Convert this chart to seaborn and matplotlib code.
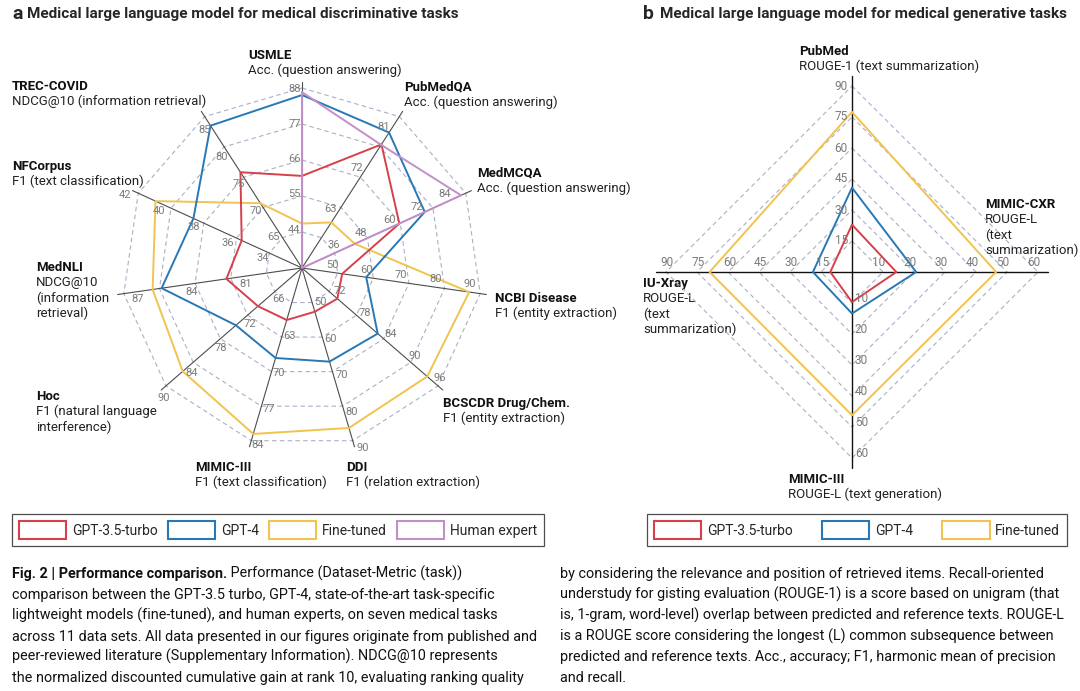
import numpy as np
import matplotlib
matplotlib.use('Agg')
import matplotlib.pyplot as plt
import seaborn as sns
from matplotlib.patches import Rectangle

sns.set_theme(style='white')
plt.rcParams['font.family'] = ['Roboto', 'DejaVu Sans']
NARROW = ['Liberation Sans Narrow', 'Roboto', 'DejaVu Sans']

# ---- panel a: discriminative tasks (clockwise from top) ----
tasks_a = ['USMLE', 'PubMedQA', 'MedMCQA', 'NCBI Disease', 'BCSCDR Drug/Chem.', 'DDI',
           'MIMIC-III', 'Hoc', 'MedNLI', 'NFCorpus', 'TREC-COVID']
metric_a = ['Acc. (question answering)', 'Acc. (question answering)', 'Acc. (question answering)',
            'F1 (entity extraction)', 'F1 (entity extraction)', 'F1 (relation extraction)',
            'F1 (text classification)', 'F1 (natural language\ninterference)',
            'NDCG@10\n(information\nretrieval)', 'F1 (text classification)',
            'NDCG@10 (information retrieval)']
# value at the centre / value at the outer ring, per axis
lo_a = [32, 51, 21.2, 41.5, 64, 40, 50.3, 60, 77.8, 31.9, 58.5]
hi_a = [88.3, 84.2, 91.5, 93.4, 96.7, 87.4, 83.5, 88.4, 87.7, 41.4, 86.8]
ticks_a = [[44, 55, 66, 77, 88], [63, 72, 81], [36, 48, 60, 72, 84], [50, 60, 70, 80, 90],
           [72, 78, 84, 90, 96], [50, 60, 70, 80, 90], [63, 70, 77, 84], [66, 72, 78, 84, 90],
           [81, 84, 87], [34, 36, 38, 40, 42], [65, 70, 75, 80, 85]]
gpt35_a = [60.8, 78.1, 63.0, 53.2, 72.5, 52.0, 60.3, 69.2, 82.0, 35.4, 76.4]
gpt4_a = [86.1, 80.7, 73.9, 60.2, 82.2, 65.7, 67.6, 73.8, 85.6, 38.2, 85.1]
finetuned_a = [45.9, 61.0, 43.9, 90.2, 94.1, 83.9, 82.2, 84.9, 86.1, 40.4, 70.6]
human_a = [87.0, 78.0, 89.5, np.nan, np.nan, np.nan, np.nan, np.nan, np.nan, np.nan, np.nan]

# ---- panel b: generative tasks (clockwise from top) ----
tasks_b = ['PubMed', 'MIMIC-CXR', 'MIMIC-III', 'IU-Xray']
metric_b = ['ROUGE-1 (text summarization)', 'ROUGE-L\n(text\nsummarization)',
            'ROUGE-L (text generation)', 'ROUGE-L\n(text\nsummarization)']
hi_b = [90, 60, 60, 90]
ticks_b = [[15, 30, 45, 60, 75, 90], [10, 20, 30, 40, 50, 60],
           [10, 20, 30, 40, 50, 60], [15, 30, 45, 60, 75, 90]]
gpt35_b = [22.9, 14.3, 9.7, 10.5]
gpt4_b = [40.8, 20.7, 13.4, 18.9]
finetuned_b = [77.4, 46.5, 46.2, 68.9]

RED, BLUE, YELLOW, PURPLE = '#d6404a', '#2878b5', '#f1c34f', '#c28fc9'
GRID = '#aab0c6'
TICKC = '#7b7b7b'

W, H = 1080, 691
fig = plt.figure(figsize=(W / 100, H / 100), dpi=100)
bg = fig.add_axes([0, 0, 1, 1])
bg.set_xlim(0, W)
bg.set_ylim(H, 0)
bg.axis('off')


def polar_axes(cx, cy, R, rmax):
    half = R * rmax
    ax = fig.add_axes([(cx - half) / W, (H - cy - half) / H, 2 * half / W, 2 * half / H],
                      projection='polar')
    ax.set_theta_zero_location('N')
    ax.set_theta_direction(-1)
    ax.set_ylim(0, rmax)
    ax.axis('off')
    return ax


def draw_tick_labels(ax, theta, ticks, lo, hi, offsets, has, vas, size):
    for i, th in enumerate(theta):
        for t in ticks[i]:
            ax.annotate(str(t), xy=(th, (t - lo[i]) / (hi[i] - lo[i])), xytext=offsets[i],
                        textcoords='offset points', ha=has[i], va=vas[i], fontsize=size,
                        color=TICKC, zorder=5, annotation_clip=False)


def draw_titles(names, metrics, pos):
    for name, met, (x, y) in zip(names, metrics, pos):
        bg.text(x, y, name, fontsize=9.5, weight='bold', va='center', color='#111111')
        for j, line in enumerate(met.split('\n')):
            bg.text(x, y + 15.5 * (j + 1), line, fontsize=9.5, va='center', color='#222222')


# ================= panel a =================
ax_a = polar_axes(302, 268, 180, 1.1)
n = len(tasks_a)
theta_a = np.arange(n) * 2 * np.pi / n
closed_a = np.append(theta_a, 2 * np.pi)
for k in range(1, 6):
    ax_a.plot(closed_a, [k / 5] * (n + 1), ls=(0, (4, 3)), color=GRID, lw=0.8, zorder=1)
for th in theta_a:
    ax_a.plot([th, th], [0, 1.035], color='#4d4d4d', lw=0.8, zorder=2)

lo = np.array(lo_a)
hi = np.array(hi_a)
for vals, c in [(finetuned_a, YELLOW), (gpt35_a, RED), (gpt4_a, BLUE), (human_a, PURPLE)]:
    r = np.nan_to_num((np.array(vals, float) - lo) / (hi - lo), nan=0.0)
    sns.lineplot(x=closed_a, y=np.append(r, r[0]), sort=False, estimator=None, color=c,
                 lw=1.4, ax=ax_a, legend=False, zorder=3)

offs_a = [(-5.5 * np.cos(th), 5.5 * np.sin(th)) for th in theta_a]
draw_tick_labels(ax_a, theta_a, ticks_a, lo, hi, offs_a, ['center'] * n, ['center'] * n, 8)

pos_a = [(248, 55), (404, 87), (477, 173), (495, 298), (443, 403), (346, 467),
         (195, 467), (36, 396), (36, 267), (12, 166), (12, 86)]
draw_titles(tasks_a, metric_a, pos_a)

# ================= panel b =================
ax_b = polar_axes(852, 272, 186, 1.1)
m = len(tasks_b)
theta_b = np.arange(m) * 2 * np.pi / m
closed_b = np.append(theta_b, 2 * np.pi)
for k in range(1, 7):
    ax_b.plot(closed_b, [k / 6] * (m + 1), ls=(0, (4, 3)), color=GRID, lw=0.8, zorder=1)
for th in theta_b:
    ax_b.plot([th, th], [0, 1.054], color='#111111', lw=1.0, zorder=2)

hb = np.array(hi_b, float)
for vals, c in [(finetuned_b, YELLOW), (gpt35_b, RED), (gpt4_b, BLUE)]:
    r = np.array(vals, float) / hb
    sns.lineplot(x=closed_b, y=np.append(r, r[0]), sort=False, estimator=None, color=c,
                 lw=1.4, ax=ax_b, legend=False, zorder=3)

draw_tick_labels(ax_b, theta_b, ticks_b, np.zeros(m), hb,
                 [(-3, 0), (-3, 2), (2, 3), (1, 2)],
                 ['right', 'center', 'left', 'center'],
                 ['center', 'bottom', 'center', 'bottom'], 8.5)

pos_b = [(799, 51), (985, 204), (788, 479), (643, 283)]
draw_titles(tasks_b, metric_b, pos_b)

# ================= panel titles =================
bg.text(12, 14, 'a', fontsize=14, weight='bold', va='center', family=NARROW)
bg.text(27, 14, 'Medical large language model for medical discriminative tasks',
        fontsize=11, weight='bold', va='center', family=NARROW)
bg.text(643, 14, 'b', fontsize=14, weight='bold', va='center', family=NARROW)
bg.text(660, 14, 'Medical large language model for medical generative tasks',
        fontsize=11, weight='bold', va='center', family=NARROW)

# ================= legends =================
def swatch(c):
    return Rectangle((0, 0), 1, 1, facecolor='none', edgecolor=c, lw=1.5)


def make_legend(labels, colors, x0, x1, y0, y1):
    leg = fig.legend([swatch(c) for c in colors], labels, loc='center',
                     bbox_to_anchor=(x0 / W, (H - y1) / H, (x1 - x0) / W, (y1 - y0) / H),
                     mode='expand', ncol=len(labels), frameon=True, fancybox=False,
                     edgecolor='#222222', borderaxespad=0, borderpad=0.5,
                     handlelength=3.4, handleheight=1.6, handletextpad=0.4,
                     prop={'family': NARROW, 'size': 10})
    leg.get_frame().set_linewidth(0.9)
    return leg


make_legend(['GPT-3.5-turbo', 'GPT-4', 'Fine-tuned', 'Human expert'],
            [RED, BLUE, YELLOW, PURPLE], 12, 544, 513, 547)
make_legend(['GPT-3.5-turbo', 'GPT-4', 'Fine-tuned'], [RED, BLUE, YELLOW], 647, 1067, 513, 547)

# ================= caption =================
left_lines = [
    'comparison between the GPT-3.5 turbo, GPT-4, state-of-the-art task-specific',
    'lightweight models (fine-tuned), and human experts, on seven medical tasks',
    'across 11 data sets. All data presented in our figures originate from published and',
    'peer-reviewed literature (Supplementary Information). NDCG@10 represents',
    'the normalized discounted cumulative gain at rank 10, evaluating ranking quality',
]
right_lines = [
    'by considering the relevance and position of retrieved items. Recall-oriented',
    'understudy for gisting evaluation (ROUGE-1) is a score based on unigram (that',
    'is, 1-gram, word-level) overlap between predicted and reference texts. ROUGE-L',
    'is a ROUGE score considering the longest (L) common subsequence between',
    'predicted and reference texts. Acc., accuracy; F1, harmonic mean of precision',
    'and recall.',
]
baselines = [578, 599, 620, 641, 661, 682]
cap = dict(fontsize=10.4, family=NARROW, va='baseline', color='#111111')
t0 = bg.text(12, baselines[0], 'Fig. 2 | Performance comparison.', weight='bold', **cap)
bg.annotate(' Performance (Dataset-Metric (task))', xy=(1, baselines[0]),
            xycoords=(t0, 'data'), ha='left', **cap)
for y, line in zip(baselines[1:], left_lines):
    bg.text(12, y, line, **cap)
for y, line in zip(baselines, right_lines):
    bg.text(560, y, line, **cap)

fig.savefig('out.png', dpi=100)
